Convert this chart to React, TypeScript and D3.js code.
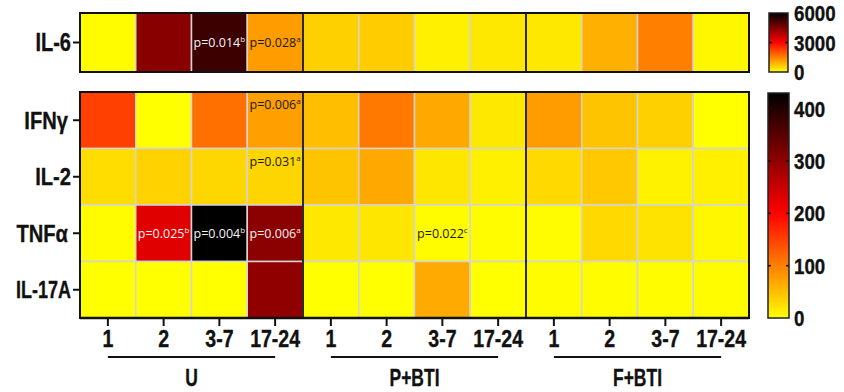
import React from "react";
import * as d3 from "d3";

const groups = ["U", "P+BTI", "F+BTI"];
const timepoints = ["1", "2", "3-7", "17-24"];
const cytokines = ["IFNγ", "IL-2", "TNFα", "IL-17A"];

// values per column: U(1,2,3-7,17-24), P+BTI(...), F+BTI(...)
const il6 = [30, 4400, 5300, 1150, 550, 600, 180, 270, 270, 930, 1500, 100];
const ifng = [150, 0, 112, 75, 50, 106, 68, 18, 78, 46, 37, 0];
const il2 = [27, 35, 31, 33, 46, 68, 20, 12, 30, 43, 10, 12];
const tnfa = [2, 228, 440, 305, 18, 20, 2, 2, 3, 30, 22, 6];
const il17a = [0, 0, 0, 300, 0, 0, 67, 0, 2, 2, 2, 2];

const il6Ticks = [0, 3000, 6000];
const lowerTicks = [0, 100, 200, 300, 400];

// p-value notes: row, column index, text, superscript, vertical place
const pNotes = [
  { row: "IL-6", col: 2, text: "p=0.014", sup: "b", pos: "mid" },
  { row: "IL-6", col: 3, text: "p=0.028", sup: "a", pos: "mid" },
  { row: "IFNγ", col: 3, text: "p=0.006", sup: "a", pos: "top" },
  { row: "IL-2", col: 3, text: "p=0.031", sup: "a", pos: "top" },
  { row: "TNFα", col: 1, text: "p=0.025", sup: "b", pos: "mid" },
  { row: "TNFα", col: 2, text: "p=0.004", sup: "b", pos: "mid" },
  { row: "TNFα", col: 3, text: "p=0.006", sup: "a", pos: "mid" },
  { row: "TNFα", col: 6, text: "p=0.022", sup: "c", pos: "mid" },
];

const lowerRows = [ifng, il2, tnfa, il17a];

const FONT = "'Liberation Sans', Arial, sans-serif";

const Cond = ({ x, y, sx, size, anchor, children }) => (
  <text
    transform={`translate(${x},${y}) scale(${sx},1)`}
    textAnchor={anchor}
    fontFamily={FONT}
    fontWeight="bold"
    fontSize={size}
    fill="#111"
    stroke="#111"
    strokeWidth={0.35}
  >
    {children}
  </text>
);

export default function App() {
  const left = 80;
  const right = 749;
  const columns = groups.flatMap((g) => timepoints.map((t) => `${g}|${t}`));

  const x = d3.scaleBand().domain(columns).range([left, right]);
  const yTop = d3.scaleBand().domain(["IL-6"]).range([13, 72]);
  const yLow = d3.scaleBand().domain(cytokines).range([92, 318]);

  const colTop = d3
    .scaleLinear<string>()
    .domain([0, 3000, 6000])
    .range(["#ffff00", "#ff0000", "#000000"])
    .clamp(true);
  const colLow = d3
    .scaleLinear<string>()
    .domain([0, 200, 430])
    .range(["#ffff00", "#ff0000", "#000000"])
    .clamp(true);

  const barTop = d3.scaleLinear().domain([0, 6000]).range([72, 13]);
  const barLow = d3.scaleLinear().domain([0, 430]).range([318, 93]);

  const bw = x.bandwidth();
  const groupEdges = [4, 8].map((i) => x(columns[i]));

  const gradStops = d3.range(0, 1.0001, 0.05);

  const noteY = (row, pos) => {
    const yy = row === "IL-6" ? yTop : yLow;
    const top = yy(row);
    return pos === "top" ? top + 17 : top + yy.bandwidth() / 2 + 4.5;
  };
  const noteFill = (row, col) => {
    const v = row === "IL-6" ? il6[col] : lowerRows[cytokines.indexOf(row)][col];
    const c = d3.rgb(row === "IL-6" ? colTop(v) : colLow(v));
    return c.g < 120 ? "#f4f4f4" : "#1a1a1a";
  };

  return (
    <svg
      width={844}
      height={392}
      style={{ position: "absolute", left: 0, top: 0, background: "#fff" }}
    >
      <defs>
        <linearGradient id="gTop" x1="0" y1="1" x2="0" y2="0">
          {gradStops.map((s) => (
            <stop key={s} offset={s} stopColor={colTop(s * 6000)} />
          ))}
        </linearGradient>
        <linearGradient id="gLow" x1="0" y1="1" x2="0" y2="0">
          {gradStops.map((s) => (
            <stop key={s} offset={s} stopColor={colLow(s * 430)} />
          ))}
        </linearGradient>
      </defs>

      {/* IL-6 panel */}
      {il6.map((v, i) => (
        <rect
          key={`t${i}`}
          x={x(columns[i])}
          y={yTop("IL-6")}
          width={bw}
          height={yTop.bandwidth()}
          fill={colTop(v)}
          stroke="#d4d4d4"
          strokeWidth={1.5}
        />
      ))}
      {groupEdges.map((gx, i) => (
        <line key={`tg${i}`} x1={gx} x2={gx} y1={13} y2={72} stroke="#2a2a35" strokeWidth={2} />
      ))}
      <rect x={left} y={13} width={right - left} height={59} fill="none" stroke="#111" strokeWidth={2} />
      <line x1={73} x2={left} y1={42.5} y2={42.5} stroke="#111" strokeWidth={2} />
      <Cond x={71} y={51} sx={0.8} size={25} anchor="end">IL-6</Cond>

      {/* lower panel */}
      {lowerRows.map((vals, r) =>
        vals.map((v, i) => (
          <rect
            key={`l${r}-${i}`}
            x={x(columns[i])}
            y={yLow(cytokines[r])}
            width={bw}
            height={yLow.bandwidth()}
            fill={colLow(v)}
            stroke="#d4d4d4"
            strokeWidth={1.5}
          />
        ))
      )}
      {groupEdges.map((gx, i) => (
        <line key={`lg${i}`} x1={gx} x2={gx} y1={92} y2={318} stroke="#2a2a35" strokeWidth={2} />
      ))}
      <rect x={left} y={92} width={right - left} height={226} fill="none" stroke="#111" strokeWidth={2} />
      <line x1={left} x2={right} y1={318} y2={318} stroke="#111" strokeWidth={2.5} />
      {cytokines.map((c) => {
        const cy = yLow(c) + yLow.bandwidth() / 2;
        return (
          <g key={c}>
            <line x1={73} x2={left} y1={cy} y2={cy} stroke="#111" strokeWidth={2} />
            <Cond
              x={c === "IFNγ" || c === "TNFα" ? 68 : 71}
              y={cy + 8.5}
              sx={c === "IL-17A" ? 0.75 : 0.84}
              size={24}
              anchor="end"
            >
              {c}
            </Cond>
          </g>
        );
      })}

      {/* x axis */}
      {columns.map((c) => {
        const cx = x(c) + bw / 2;
        return (
          <g key={c}>
            <line x1={cx} x2={cx} y1={318} y2={326} stroke="#111" strokeWidth={2} />
            <Cond x={cx} y={347} sx={0.85} size={23} anchor="middle">
              {c.split("|")[1]}
            </Cond>
          </g>
        );
      })}
      {groups.map((g) => {
        const x1 = x(`${g}|${timepoints[0]}`) + bw / 2;
        const x2 = x(`${g}|${timepoints[3]}`) + bw / 2;
        return (
          <g key={g}>
            <line x1={x1} x2={x2} y1={357} y2={357} stroke="#111" strokeWidth={2} />
            <Cond x={(x1 + x2) / 2} y={386} sx={0.76} size={23} anchor="middle">
              {g}
            </Cond>
          </g>
        );
      })}

      {/* p-value notes */}
      {pNotes.map((n, i) => (
        <text
          key={`p${i}`}
          x={x(columns[n.col]) + bw / 2}
          y={noteY(n.row, n.pos)}
          textAnchor="middle"
          fontFamily="'Open Sans', sans-serif"
          fontSize={12.5}
          fill={noteFill(n.row, n.col)}
        >
          {n.text}
          <tspan fontSize={8} dy={-5}>{n.sup}</tspan>
        </text>
      ))}

      {/* colour bars */}
      <rect x={769} y={13} width={19} height={59} fill="url(#gTop)" stroke="#222" strokeWidth={1.5} />
      {il6Ticks.map((t) => (
        <g key={`bt${t}`}>
          {t > 0 && t < 6000 && (
            <>
              <line x1={769} x2={772} y1={barTop(t)} y2={barTop(t)} stroke="#111" strokeWidth={1.5} />
              <line x1={785} x2={788} y1={barTop(t)} y2={barTop(t)} stroke="#111" strokeWidth={1.5} />
            </>
          )}
          <Cond x={794} y={barTop(t) + 8} sx={0.85} size={22} anchor="start">
            {t}
          </Cond>
        </g>
      ))}

      <rect x={768} y={93} width={21} height={225} fill="url(#gLow)" stroke="#222" strokeWidth={1.5} />
      {lowerTicks.map((t) => (
        <g key={`bl${t}`}>
          {t > 0 && (
            <>
              <line x1={768} x2={771} y1={barLow(t)} y2={barLow(t)} stroke="#111" strokeWidth={1.5} />
              <line x1={786} x2={789} y1={barLow(t)} y2={barLow(t)} stroke="#111" strokeWidth={1.5} />
            </>
          )}
          <Cond x={794} y={barLow(t) + 8} sx={0.85} size={22} anchor="start">
            {t}
          </Cond>
        </g>
      ))}
    </svg>
  );
}
